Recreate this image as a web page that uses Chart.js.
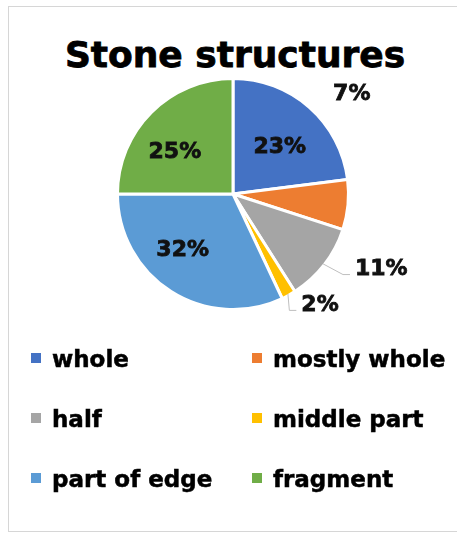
<!DOCTYPE html>
<html>
<head>
<meta charset="utf-8">
<script src="https://cdn.jsdelivr.net/npm/chart.js@4/dist/chart.umd.min.js"></script>
<style>
  body { margin: 0; background: #fff; font-family: "DejaVu Sans", sans-serif; }
  #wrap { position: relative; width: 457px; height: 534px; overflow: hidden; }
  #frame { position: absolute; left: 8px; top: 6px; width: 470px; height: 526px; border: 1px solid #d6d6d6; box-sizing: border-box; }
  #title { position: absolute; left: 0; width: 470px; top: 37px; text-align: center; font: bold 36px/36px "DejaVu Sans", sans-serif; color: #000; -webkit-text-stroke: 0.8px #000; }
  #chart { position: absolute; left: 0; top: 0; }
  .item { position: absolute; font: bold 23px/23px "DejaVu Sans", sans-serif; color: #000; padding-left: 21px; white-space: nowrap; -webkit-text-stroke: 0.5px #000; }
  .item i { position: absolute; left: 0; top: 5px; width: 10px; height: 10px; }
</style>
</head>
<body>
<div id="wrap">
  <div id="frame"></div>
  <div id="title">Stone structures</div>
  <canvas id="chart" width="457" height="534"></canvas>
  <div id="legend"></div>
</div>
<script>
var labels = ['whole', 'mostly whole', 'half', 'middle part', 'part of edge', 'fragment'];
var values = [23, 7, 11, 2, 32, 25];
var colors = ['#4472C4', '#ED7D31', '#A5A5A5', '#FFC000', '#5B9BD5', '#70AD47'];

// where Excel put each percent label: distance as share of radius, angle clockwise from top
var spots = [
  {f: 0.58, deg: 45},
  {f: 1.36, deg: 50},
  {f: 1.46, deg: 117, leader: true},
  {f: 1.24, deg: 142, leader: true},
  {f: 0.66, deg: 222},
  {f: 0.63, deg: 306}
];

var pctLabels = {
  id: 'pctLabels',
  afterDatasetsDraw: function(chart) {
    var ctx = chart.ctx;
    var meta = chart.getDatasetMeta(0);
    var total = values.reduce(function(a, b) { return a + b; }, 0);
    ctx.save();
    ctx.font = 'bold 22px "DejaVu Sans"';
    ctx.textAlign = 'center';
    ctx.textBaseline = 'middle';
    meta.data.forEach(function(arc, i) {
      var r = arc.outerRadius - 1.5;
      var s = spots[i];
      var a = s.deg * Math.PI / 180;
      var x = arc.x + Math.sin(a) * r * s.f;
      var y = arc.y - Math.cos(a) * r * s.f;
      var txt = Math.round(values[i] / total * 100) + '%';
      if (s.leader) {
        var mid = (arc.startAngle + arc.endAngle) / 2;
        var left = x - ctx.measureText(txt).width / 2;
        ctx.strokeStyle = '#bfbfbf';
        ctx.lineWidth = 1;
        ctx.beginPath();
        ctx.moveTo(arc.x + Math.cos(mid) * r, arc.y + Math.sin(mid) * r);
        ctx.lineTo(left - 12, y + 5);
        ctx.lineTo(left - 5, y + 5);
        ctx.stroke();
      }
      ctx.fillStyle = '#111';
      ctx.strokeStyle = '#111';
      ctx.lineWidth = 0.8;
      ctx.fillText(txt, x, y);
      ctx.strokeText(txt, x, y);
    });
    ctx.restore();
  }
};

new Chart(document.getElementById('chart'), {
  type: 'pie',
  data: {
    labels: labels,
    datasets: [{
      data: values,
      backgroundColor: colors,
      borderColor: '#fff',
      borderWidth: 3
    }]
  },
  options: {
    responsive: false,
    animation: false,
    devicePixelRatio: 1,
    events: [],
    layout: { padding: { left: 116, top: 77, right: 107, bottom: 223 } },
    plugins: {
      legend: { display: false },
      title: { display: false },
      tooltip: { enabled: false }
    }
  },
  plugins: [pctLabels]
});

// legend, two columns
var legend = document.getElementById('legend');
labels.forEach(function(name, i) {
  var d = document.createElement('div');
  d.className = 'item';
  d.style.left = (i % 2 ? 252 : 31) + 'px';
  d.style.top = (348 + Math.floor(i / 2) * 60) + 'px';
  var m = document.createElement('i');
  m.style.background = colors[i];
  d.appendChild(m);
  d.appendChild(document.createTextNode(name));
  legend.appendChild(d);
});
</script>
</body>
</html>
